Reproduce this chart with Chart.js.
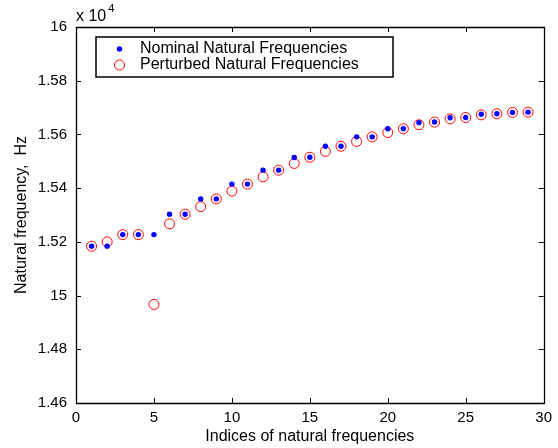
<!DOCTYPE html>
<html>
<head>
<meta charset="utf-8">
<script src="https://cdn.jsdelivr.net/npm/chart.js@4.4.0/dist/chart.umd.min.js"></script>
<style>
  html, body { margin: 0; padding: 0; background: #fff; }
  #wrap { width: 558px; height: 448px; }
</style>
</head>
<body>
<div id="wrap"><canvas id="myChart" width="558" height="448"></canvas></div>
<script>
// Data, in units of 10^4 Hz
const indices = [1,2,3,4,5,6,7,8,9,10,11,12,13,14,15,16,17,18,19,20,21,22,23,24,25,26,27,28,29];
const nominal = [1.5184,1.5184,1.5227,1.5227,1.5227,1.5303,1.5303,1.5360,1.5360,1.5415,1.5415,1.5467,1.5467,1.5514,1.5515,
                 1.5556,1.5556,1.5591,1.5591,1.5621,1.5621,1.5644,1.5646,1.5662,1.5663,1.5675,1.5677,1.5682,1.5683];
const perturbed = [1.5184,1.5200,1.5227,1.5227,1.4967,1.5267,1.5303,1.5331,1.5360,1.5389,1.5415,1.5442,1.5467,1.5492,1.5515,
                   1.5537,1.5556,1.5574,1.5591,1.5607,1.5621,1.5636,1.5646,1.5658,1.5663,1.5673,1.5677,1.5682,1.5683];
const seriesNames = ['Nominal Natural Frequencies', 'Perturbed Natural Frequencies'];
const xTickValues = [0,5,10,15,20,25,30];
const yTickValues = [1.46,1.48,1.50,1.52,1.54,1.56,1.58,1.60];
const yTickLabels = ['1.46','1.48','15','1.52','1.54','1.56','1.58','16'];

const font = "'Liberation Sans', Arial, sans-serif";

// frame with inward ticks, legend box and exponent label (MATLAB look)
const framePlugin = {
  id: 'frame',
  afterDraw(chart) {
    const ctx = chart.ctx;
    const a = chart.chartArea;
    const xs = chart.scales.x, ys = chart.scales.y;
    ctx.save();
    ctx.strokeStyle = '#000';
    ctx.lineWidth = 1.3;
    ctx.beginPath();
    ctx.rect(Math.round(a.left) + 0.5, Math.round(a.top) + 0.5, Math.round(a.right - a.left), Math.round(a.bottom - a.top));
    ctx.stroke();
    const len = 5;
    ctx.lineWidth = 1;
    ctx.beginPath();
    xTickValues.forEach(v => {
      const px = Math.round(xs.getPixelForValue(v)) + 0.5;
      ctx.moveTo(px, a.bottom); ctx.lineTo(px, a.bottom - len);
      ctx.moveTo(px, a.top); ctx.lineTo(px, a.top + len);
    });
    yTickValues.forEach(v => {
      const py = Math.round(ys.getPixelForValue(v)) + 0.5;
      ctx.moveTo(a.left, py); ctx.lineTo(a.left + len, py);
      ctx.moveTo(a.right, py); ctx.lineTo(a.right - len, py);
    });
    ctx.stroke();

    // exponent
    ctx.fillStyle = '#000';
    ctx.font = '16px ' + font;
    ctx.textBaseline = 'alphabetic';
    ctx.textAlign = 'left';
    ctx.fillText('x 10', a.left, a.top - 6);
    const w = ctx.measureText('x 10').width;
    ctx.font = '11px ' + font;
    ctx.fillText('4', a.left + w + 2, a.top - 15);

    // legend
    const lx = 96, ly = 37, lw = 297, lh = 40;
    ctx.fillStyle = '#fff';
    ctx.fillRect(lx, ly, lw, lh);
    ctx.lineWidth = 1.5;
    ctx.strokeRect(lx, ly, lw, lh);
    ctx.fillStyle = '#0000ff';
    ctx.beginPath(); ctx.arc(119.5, 49, 2.7, 0, Math.PI * 2); ctx.fill();
    ctx.strokeStyle = '#ff0000';
    ctx.lineWidth = 1;
    ctx.beginPath(); ctx.arc(119.5, 65, 5, 0, Math.PI * 2); ctx.stroke();
    ctx.fillStyle = '#000';
    ctx.font = '16px ' + font;
    ctx.textBaseline = 'middle';
    ctx.fillText(seriesNames[0], 140, 49);
    ctx.fillText(seriesNames[1], 140, 65);
    ctx.restore();
  }
};

const myChart = document.getElementById('myChart');
new Chart(myChart, {
  type: 'scatter',
  data: {
    datasets: [
      {
        label: seriesNames[0],
        data: indices.map((x, i) => ({ x: x, y: nominal[i] })),
        pointStyle: 'circle',
        pointRadius: 2.7,
        backgroundColor: '#0000ff',
        borderColor: '#0000ff',
        borderWidth: 0
      },
      {
        label: seriesNames[1],
        data: indices.map((x, i) => ({ x: x, y: perturbed[i] })),
        pointStyle: 'circle',
        pointRadius: 5,
        backgroundColor: 'rgba(0,0,0,0)',
        borderColor: '#ff0000',
        borderWidth: 1
      }
    ]
  },
  options: {
    responsive: false,
    animation: false,
    layout: { padding: { top: 27, right: 14, left: 0, bottom: 0 } },
    plugins: { legend: { display: false }, tooltip: { enabled: false } },
    scales: {
      x: {
        type: 'linear',
        min: 0, max: 30,
        afterBuildTicks: s => { s.ticks = xTickValues.map(v => ({ value: v })); },
        afterFit: s => { s.height = 45; },
        grid: { display: false, drawTicks: false },
        border: { display: false },
        ticks: { color: '#000', font: { family: font, size: 15 }, padding: 6, maxRotation: 0 },
        title: { display: true, text: 'Indices of natural frequencies', color: '#000',
                 font: { family: font, size: 16 }, padding: { top: 0, bottom: 2 } }
      },
      y: {
        type: 'linear',
        min: 1.46, max: 1.60,
        afterBuildTicks: s => { s.ticks = yTickValues.map(v => ({ value: v })); },
        afterFit: s => { s.width = 76; },
        grid: { display: false, drawTicks: false },
        border: { display: false },
        ticks: { color: '#000', font: { family: font, size: 15 }, padding: 9,
                 callback: (v, i) => yTickLabels[i] },
        title: { display: true, text: 'Natural frequency,  Hz', color: '#000',
                 font: { family: font, size: 16 }, padding: { top: 12, bottom: 0 } }
      }
    }
  },
  plugins: [framePlugin]
});
</script>
</body>
</html>
